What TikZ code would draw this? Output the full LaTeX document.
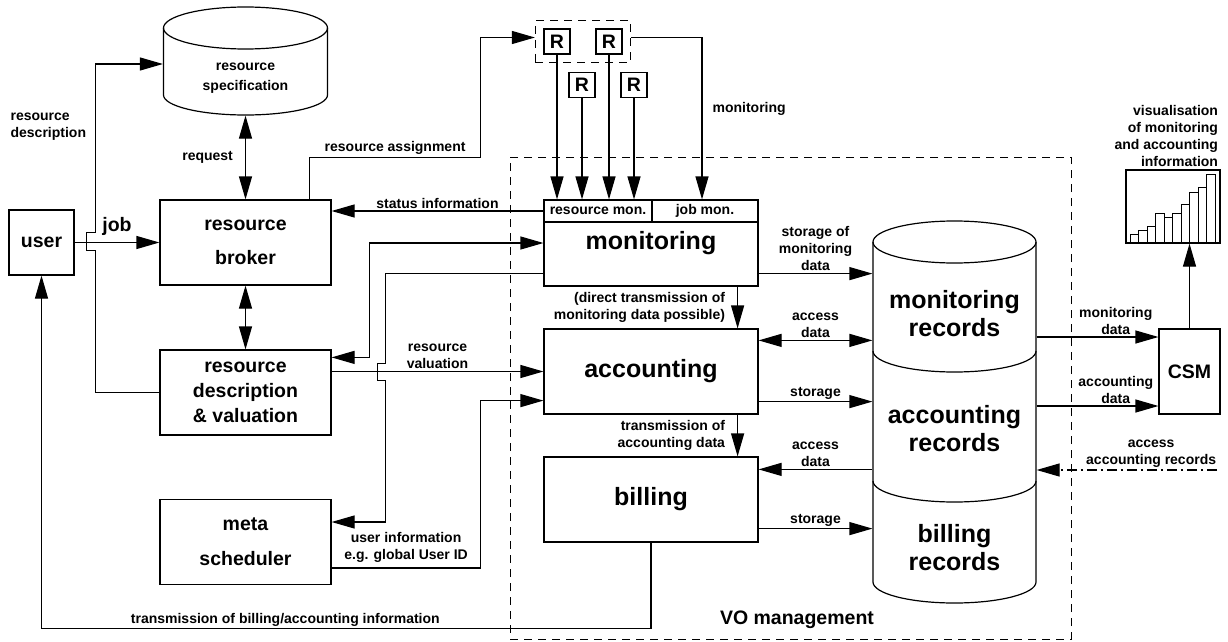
\documentclass[tikz,border=0pt]{standalone}
\usepackage{fontspec}
\setmainfont{Liberation Sans}
\usetikzlibrary{arrows.meta,positioning,fit}

\begin{document}
\begin{tikzpicture}[
    x=1pt, y=-1pt,
    line width=1.2pt,
    lbl/.style={font=\fontsize{14}{17}\selectfont\bfseries, align=center, inner sep=2pt},
    midfont/.style={font=\fontsize{19.5}{24}\selectfont\bfseries},
    bigfont/.style={font=\fontsize{25}{28}\selectfont\bfseries},
    box/.style={draw, rectangle, align=center, inner sep=2pt},
    lbox/.style={box, midfont, minimum width=171pt, minimum height=85pt},
    vbox/.style={box, bigfont, minimum width=214pt, minimum height=85pt},
    rbox/.style={box, midfont, minimum width=26pt, minimum height=25pt, inner sep=0pt},
    rectext/.style={bigfont, align=center, minimum width=163pt, inner sep=0pt},
    dashedbox/.style={draw, dash pattern=on 8pt off 6pt, line width=1pt},
    arrow/.style={-{Triangle[length=23pt,width=13pt]}},
    dblarrow/.style={{Triangle[length=23pt,width=13pt]}-{Triangle[length=23pt,width=13pt]}}
]
\useasboundingbox (0,0) rectangle (1228,642);

% VO management frame
\node[dashedbox, minimum width=561pt, minimum height=482pt] (vo) at (790.5,398) {};
\node[midfont] (volbl) at (797,620) {VO management};

% Left column
\node[lbox, minimum width=65pt, minimum height=65pt] (user) at (41.5,242.5) {user};
\node[lbox, font=\fontsize{19.5}{34}\selectfont\bfseries] (broker) at (245.5,242.5) {resource\\broker};
\node[lbox, font=\fontsize{19.5}{25}\selectfont\bfseries] (desc) at (245.5,392.5) {resource\\description\\\& valuation};
\node[lbox, font=\fontsize{19.5}{35}\selectfont\bfseries] (meta) at (245.5,542) {meta\\scheduler};
\node[lbl, align=left, anchor=west] (rdlbl) at (8,126.5) {resource\\description};

% Resource specification (cylinder)
\node[lbl, font=\fontsize{14}{20}\selectfont\bfseries, minimum width=164pt, minimum height=74pt] (spec) at (245.5,78) {resource\\specification};
\draw (245.5,28) ellipse [x radius=82pt, y radius=21pt];
\draw (163.5,28) -- (163.5,95) arc[start angle=180, end angle=360, x radius=82pt, y radius=20pt] -- (327.5,28);

% Resources
\node[rbox] (r1) at (557,41.5) {R};
\node[rbox] (r2) at (609,41.5) {R};
\node[rbox] (r3) at (582,85) {R};
\node[rbox] (r4) at (634,85) {R};
\node[dashedbox, fit=(r1)(r2), inner sep=8pt] (rgroup) {};

% VO management blocks
\node[vbox, minimum height=86pt] (mon) at (651,243) {monitoring};
\node[box, lbl, minimum width=108pt, minimum height=22pt, anchor=north west] (resmon) at (mon.north west) {resource mon.};
\node[box, lbl, minimum width=106pt, minimum height=22pt, anchor=north east] (jobmon) at (mon.north east) {job mon.};
\node[vbox] (acc) at (651,371.5) {accounting};
\node[vbox] (bill) at (651,499.5) {billing};

% Records (stacked cylinder)
\node[rectext, minimum height=102pt] (monrec) at (954.5,314) {monitoring\\records};
\node[rectext, minimum height=114pt] (accrec) at (954.5,429) {accounting\\records};
\node[rectext, minimum height=91pt] (billrec) at (954.5,547.5) {billing\\records};
\draw (954.5,242) ellipse [x radius=81.5pt, y radius=21pt];
\draw (873,242) -- (873,582) arc[start angle=180, end angle=360, x radius=81.5pt, y radius=21pt] -- (1036,242);
\draw (873,351) arc[start angle=180, end angle=360, x radius=81.5pt, y radius=21pt];
\draw (873,481) arc[start angle=180, end angle=360, x radius=81.5pt, y radius=21pt];

% CSM and chart
\node[box, midfont, minimum width=61pt, minimum height=85pt] (csm) at (1189.5,371.5) {CSM};
\node[draw, minimum width=94pt, minimum height=73pt, inner sep=0pt] (chart) at (1173,206.5) {};
\foreach \i/\t in {0/234,1/230,2/226,3/213,4/217,5/213,6/204,7/192,8/187,9/174}
  \draw[line width=0.9pt] ({1130+8.53*\i},243) rectangle ({1138.53+8.53*\i},\t);
\node[lbl, align=right, anchor=south east] (vislbl) at (chart.north east) {visualisation\\of monitoring\\and accounting\\information};

% Arrows - left part
\draw[arrow] (user) -- node[midfont, above, yshift=3pt] {job} (broker);
\draw[dblarrow] (spec.south) -- node[lbl, anchor=east, xshift=-10pt] {request} (broker.north);
\draw[dblarrow] (broker) -- (desc);
\draw[arrow] (desc.west) -- ++(-64,0) -- ++(0,-142) -- ++(-9,0) -- ++(0,-18) -- ++(9,0) |- ([yshift=14pt]spec.west);
\draw[arrow] (bill.south) -- ++(0,86) -| node[lbl, above, pos=0.3] {transmission of billing/accounting information} (user.south);

% Arrows - resources
\draw[arrow] ([xshift=-22pt]broker.north east) -- ++(0,-42) -- node[lbl, above] {resource assignment} ++(171,0) |- ([yshift=4pt]rgroup.west);
\draw[arrow] ([yshift=4pt]rgroup.east) -| node[lbl, pos=0.72, anchor=west, xshift=8pt] {monitoring} ([xshift=-3pt]jobmon.north);
\foreach \r in {r1,r2,r3,r4}
  \draw[arrow] (\r.south) -- (\r.south |- resmon.north);

% Arrows - broker, valuation, scheduler
\draw[arrow] (resmon.west) -- node[lbl, above] {status information} (resmon.west -| broker.east);
\draw[dblarrow] ([yshift=-8pt]desc.north east) -- ++(38,0) |- (mon.west);
\draw[arrow] ([yshift=13pt]mon.south west) -- ++(-158,0) -- ++(0,90) -- ++(-8,0) -- ++(0,17) -- ++(8,0) |- ([yshift=20pt]meta.east);
\draw[arrow] (desc.east |- acc.west) -- node[lbl, above] {resource\\valuation} (acc.west);
\draw[arrow] ([yshift=-26pt]meta.east) -- node[lbl, above, yshift=3pt] {user information\\e.g. global User ID} ++(149,0) |- ([yshift=14pt]acc.south west);

% Arrows - inside VO management
\draw[arrow] ([xshift=-21pt]mon.south east) -- node[lbl, align=right, anchor=east, xshift=-10pt] {(direct transmission of\\monitoring data possible)} ([xshift=-21pt]acc.north east);
\draw[arrow] ([xshift=-21pt]acc.south east) -- node[lbl, align=right, anchor=east, xshift=-10pt] {transmission of\\accounting data} ([xshift=-21pt]bill.north east);

\coordinate (s1) at ([yshift=13pt]mon.south east);
\coordinate (s2) at ([yshift=-12pt]acc.north east);
\coordinate (s3) at ([yshift=13pt]acc.south east);
\coordinate (s4) at ([yshift=-13pt]bill.north east);
\coordinate (s5) at ([yshift=14pt]bill.south east);
\draw[arrow] (s1) -- node[lbl, above] {storage of\\monitoring\\data} (s1 -| monrec.west);
\draw[dblarrow] (s2) -- node[lbl, above] {access\\data} (s2 -| monrec.west);
\draw[arrow] (s3) -- node[lbl, above] {storage} (s3 -| accrec.west);
\draw[arrow] (s4 -| accrec.west) -- node[lbl, above] {access\\data} (s4);
\draw[arrow] (s5) -- node[lbl, above] {storage} (s5 -| billrec.west);

% Arrows - right part
\coordinate (m1) at ([yshift=-23pt]monrec.east);
\coordinate (m2) at ([yshift=23pt]accrec.east);
\coordinate (accin) at (1217,470);
\draw[arrow] (m1) -- node[lbl, above, pos=0.65] {monitoring\\data} (m1 -| csm.west);
\draw[arrow] (m2) -- node[lbl, above, pos=0.65] {accounting\\data} (m2 -| csm.west);
\draw[arrow] (csm.north) -- (csm.north |- chart.south);
\draw[arrow, dash pattern=on 10pt off 4pt on 2pt off 4pt] (accin) -- node[lbl, above, pos=0.365] {access\\accounting records} (accin -| accrec.east);
\end{tikzpicture}
\end{document}
